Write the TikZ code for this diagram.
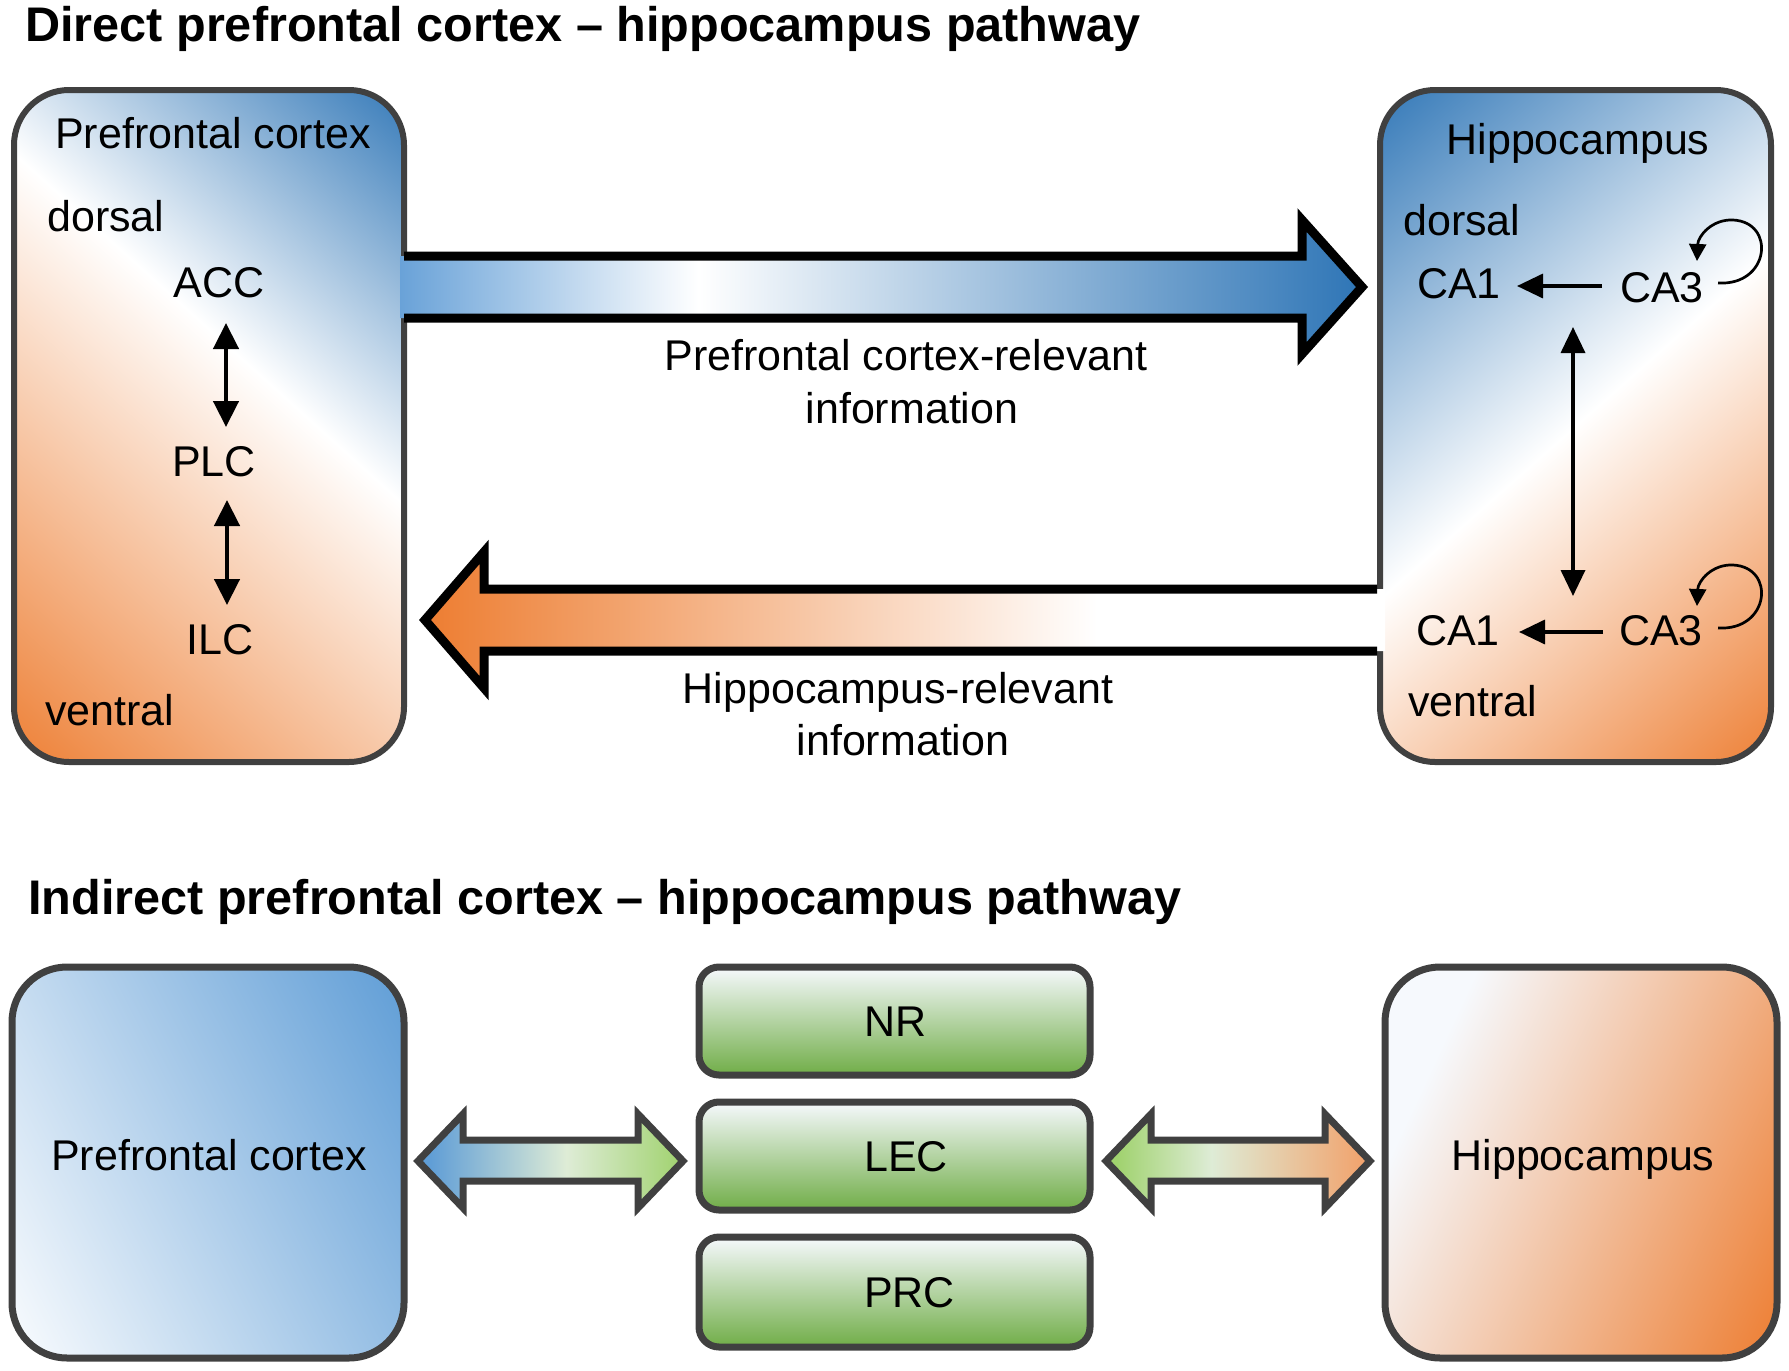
\documentclass[tikz,border=0pt]{standalone}
\usepackage{fontspec}
\setmainfont{Liberation Sans}
\usetikzlibrary{arrows.meta}
\definecolor{myblue}{RGB}{46,117,182}
\definecolor{myorange}{RGB}{237,125,49}
\definecolor{bordergray}{RGB}{64,64,64}
\definecolor{arrowblueL}{RGB}{105,162,216}
\definecolor{lightgreen}{RGB}{160,210,110}
\definecolor{boxgreen}{RGB}{112,173,71}
\definecolor{paleblue}{RGB}{246,249,253}
\definecolor{whiteish}{RGB}{250,252,254}
\definecolor{midblue}{RGB}{95,157,214}
\definecolor{pale}{RGB}{222,236,214}
\definecolor{peach}{RGB}{242,160,105}

\pgfdeclareverticalshading{pfcdiag}{100bp}{color(0bp)=(myorange); color(25.5bp)=(myorange); color(54.5bp)=(white); color(74.5bp)=(myblue); color(100bp)=(myblue)}
\pgfdeclareverticalshading{hipdiag}{100bp}{color(0bp)=(myorange); color(25.5bp)=(myorange); color(50bp)=(white); color(74.5bp)=(myblue); color(100bp)=(myblue)}
\pgfdeclarehorizontalshading{toparrow}{100bp}{color(0bp)=(arrowblueL); color(25bp)=(arrowblueL); color(40.5bp)=(white); color(75bp)=(myblue); color(100bp)=(myblue)}
\pgfdeclarehorizontalshading{botarrow}{100bp}{color(0bp)=(myorange); color(25bp)=(myorange); color(60bp)=(white); color(100bp)=(white)}
\pgfdeclarehorizontalshading{leftdbl}{100bp}{color(0bp)=(midblue); color(27bp)=(midblue); color(53bp)=(pale); color(75bp)=(lightgreen); color(100bp)=(lightgreen)}
\pgfdeclarehorizontalshading{rightdbl}{100bp}{color(0bp)=(lightgreen); color(27bp)=(lightgreen); color(45bp)=(pale); color(75bp)=(peach); color(100bp)=(peach)}
\pgfdeclarehorizontalshading{pfcbot}{100bp}{color(0bp)=(whiteish); color(33.5bp)=(whiteish); color(66.5bp)=(midblue); color(100bp)=(midblue)}
\pgfdeclarehorizontalshading{hipbot}{100bp}{color(0bp)=(paleblue); color(39bp)=(paleblue); color(66.3bp)=(myorange); color(100bp)=(myorange)}

\tikzset{
  lbl/.style={font=\fontsize{43}{50}\selectfont, inner sep=0pt, anchor=base},
  lblw/.style={font=\fontsize{43}{50}\selectfont, inner sep=0pt, anchor=base west},
  ttl/.style={font=\fontsize{48.6}{56}\selectfont\bfseries, inner sep=0pt, anchor=base west},
  boxborder/.style={draw=bordergray, line width=6pt},
  bigarrowline/.style={draw=black, line width=9pt, line join=miter, miter limit=10},
  smallarr/.style={line width=3.5pt, -{Triangle[length=26pt,width=24pt]}},
  dblarr/.style={line width=4.5pt, {Triangle[length=26pt,width=25pt]}-{Triangle[length=26pt,width=25pt]}},
  dblarrthin/.style={line width=3.5pt, {Triangle[length=26pt,width=24pt]}-{Triangle[length=26pt,width=24pt]}},
  looparr/.style={line width=2.7pt, -{Triangle[length=17pt,width=17pt]}},
  greenbox/.style={draw=bordergray, line width=7pt, rounded corners=20pt, top color=paleblue, bottom color=boxgreen, minimum width=391pt, inner sep=0pt},
  bigborder/.style={draw=bordergray, line width=7pt},
  dblshape/.style={draw=bordergray, line width=7pt, line join=miter, miter limit=10}
}

\begin{document}
\begin{tikzpicture}[x=1pt,y=-1pt]
\useasboundingbox (0,0) rectangle (1789,1371);

% ---------- Titles ----------
\node[ttl] (title1) at (25,41) {Direct prefrontal cortex -- hippocampus pathway};
\node[ttl] (title2) at (28,914) {Indirect prefrontal cortex -- hippocampus pathway};

% ---------- Top PFC box ----------
\begin{scope}
  \clip[rounded corners=55pt] (14,90) rectangle (404,762);
  \begin{scope}[transform canvas={rotate around={-42:(209,426)}}]
    \shade[shading=pfcdiag] (-191,26) rectangle (609,826);
  \end{scope}
\end{scope}
\draw[boxborder, rounded corners=55pt] (14,90) rectangle (404,762);

% ---------- Top Hippocampus box ----------
\begin{scope}
  \clip[rounded corners=55pt] (1380,90) rectangle (1771,762);
  \begin{scope}[transform canvas={rotate around={41.5:(1575.5,426)}}]
    \shade[shading=hipdiag] (1175.5,26) rectangle (1975.5,826);
  \end{scope}
\end{scope}
\draw[boxborder, rounded corners=55pt] (1380,90) rectangle (1771,762);

% ---------- Big top arrows ----------
\shade[shading=toparrow] (400,256) -- (1302,256) -- (1302,220) -- (1362,287) -- (1302,354) -- (1302,318) -- (400,318) -- cycle;
\draw[bigarrowline] (404,256) -- (1302,256) -- (1302,220) -- (1362,287) -- (1302,354) -- (1302,318) -- (404,318);

\shade[shading=botarrow] (1385,589) -- (484,589) -- (484,552) -- (425,620) -- (484,688) -- (484,651) -- (1385,651) -- cycle;
\draw[bigarrowline] (1377,589) -- (484,589) -- (484,552) -- (425,620) -- (484,688) -- (484,651) -- (1377,651);

\node[lbl] (lab1a) at (906,370) {Prefrontal cortex-relevant};
\node[lbl] (lab1b) at (912,423) {information};
\node[lbl] (lab2a) at (898,703) {Hippocampus-relevant};
\node[lbl] (lab2b) at (903,755) {information};

% ---------- PFC contents ----------
\node[lbl] (pfct) at (213,148) {Prefrontal cortex};
\node[lblw] (pfcd) at (47,231) {dorsal};
\node[lbl] (acc) at (219,297) {ACC};
\node[lbl] (plc) at (214,476) {PLC};
\node[lbl] (ilc) at (220,654) {ILC};
\node[lblw] (pfcv) at (45,725) {ventral};
\coordinate (accS) at (226,323);
\coordinate (plcN) at (226,427);
\coordinate (plcS) at (227,500);
\coordinate (ilcN) at (227,605);
\draw[dblarr] (accS) -- (plcN);
\draw[dblarr] (plcS) -- (ilcN);

% ---------- Hippocampus contents ----------
\node[lbl] (hipt) at (1578,154) {Hippocampus};
\node[lblw] (hipd) at (1403,235) {dorsal};
\node[lbl] (ca1d) at (1459,298) {CA1};
\node[lbl] (ca3d) at (1662,302) {CA3};
\node[lbl] (ca1v) at (1458,645) {CA1};
\node[lbl] (ca3v) at (1661,645) {CA3};
\node[lblw] (hipv) at (1408,716) {ventral};
\coordinate (ca3dW) at (1602,286);
\coordinate (ca1dE) at (1517,286);
\coordinate (ca3vW) at (1603,632);
\coordinate (ca1vE) at (1519,632);
\draw[smallarr] (ca3dW) -- (ca1dE);
\draw[smallarr] (ca3vW) -- (ca1vE);
\coordinate (dvN) at (1573,327);
\coordinate (dvS) at (1573,596);
\draw[dblarrthin] (dvN) -- (dvS);
\coordinate (ld1) at (1718,283);
\coordinate (ld2) at (1733,220);
\coordinate (ld3) at (1697,261);
\draw[looparr] (ld1) .. controls (1770,286) and (1776,222) .. (ld2) .. controls (1712,219) and (1698,236) .. (ld3);
\coordinate (lv1) at (1718,628);
\coordinate (lv2) at (1733,565);
\coordinate (lv3) at (1697,606);
\draw[looparr] (lv1) .. controls (1770,631) and (1776,567) .. (lv2) .. controls (1712,564) and (1698,581) .. (lv3);

% ---------- Bottom row ----------
\begin{scope}
  \clip[rounded corners=55pt] (12,967) rectangle (404,1358);
  \begin{scope}[transform canvas={rotate around={27:(208,1162.5)}}]
    \shade[shading=pfcbot] (-192,762.5) rectangle (608,1562.5);
  \end{scope}
\end{scope}
\node[bigborder, rounded corners=55pt, minimum width=392pt, minimum height=391pt, inner sep=0pt] (pfcB) at (208,1162.5) {};
\node[lbl] (pfcBt) at (209,1170) {Prefrontal cortex};

\begin{scope}
  \clip[rounded corners=55pt] (1385,967) rectangle (1777,1358);
  \begin{scope}[transform canvas={rotate around={-25:(1581,1162.5)}}]
    \shade[shading=hipbot] (1181,762.5) rectangle (1981,1562.5);
  \end{scope}
\end{scope}
\node[bigborder, rounded corners=55pt, minimum width=392pt, minimum height=391pt, inner sep=0pt] (hipB) at (1581,1162.5) {};
\node[lbl] (hipBt) at (1583,1170) {Hippocampus};

\node[greenbox, minimum height=108pt] (nr) at (894.5,1021) {};
\node[greenbox, minimum height=108pt] (lec) at (894.5,1156) {};
\node[greenbox, minimum height=110pt] (prc) at (894.5,1292) {};
\node[lblw] (nrt) at (864,1036) {NR};
\node[lblw] (lect) at (864,1171) {LEC};
\node[lblw] (prct) at (864,1307) {PRC};

\shade[shading=leftdbl] (418,1161) -- (463,1114) -- (463,1140) -- (638,1140) -- (638,1114) -- (683,1161) -- (638,1208) -- (638,1181) -- (463,1181) -- (463,1208) -- cycle;
\draw[dblshape] (418,1161) -- (463,1114) -- (463,1140) -- (638,1140) -- (638,1114) -- (683,1161) -- (638,1208) -- (638,1181) -- (463,1181) -- (463,1208) -- cycle;

\shade[shading=rightdbl] (1106,1161) -- (1151,1114) -- (1151,1140) -- (1325,1140) -- (1325,1114) -- (1370,1161) -- (1325,1208) -- (1325,1181) -- (1151,1181) -- (1151,1208) -- cycle;
\draw[dblshape] (1106,1161) -- (1151,1114) -- (1151,1140) -- (1325,1140) -- (1325,1114) -- (1370,1161) -- (1325,1208) -- (1325,1181) -- (1151,1181) -- (1151,1208) -- cycle;

\end{tikzpicture}
\end{document}
